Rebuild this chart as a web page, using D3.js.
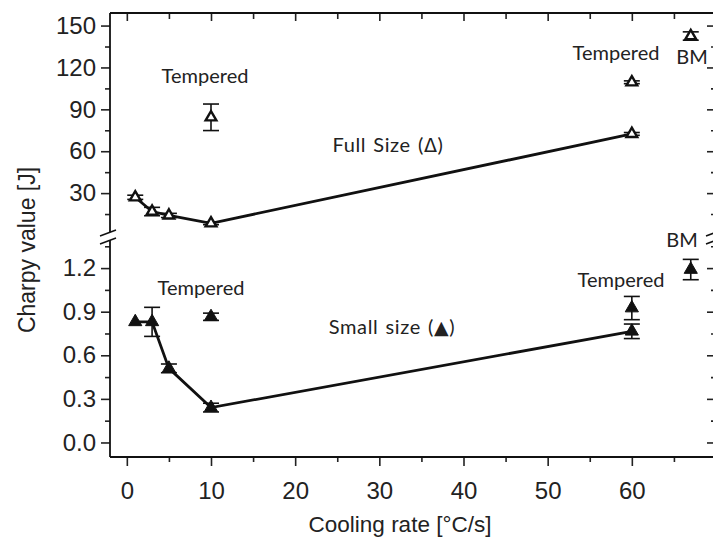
<!DOCTYPE html>
<html>
<head>
<meta charset="utf-8">
<script src="https://cdn.jsdelivr.net/npm/d3@7"></script>
<style>
  body { margin: 0; background: #fff; }
  .axis text { font-family: "Liberation Sans", Arial, sans-serif; font-size: 24px; fill: #222; }
  .axis line { stroke: #222; stroke-width: 1.6; }
  .axis path { display: none; }
  .note { font-family: Lato, "Open Sans", sans-serif; font-size: 20px; fill: #222; }
  .note.wide { word-spacing: 1.5px; letter-spacing: 0.6px; }
</style>
</head>
<body>
<svg id="chart" width="713" height="547"></svg>
<script>
// Charpy impact energy vs. cooling rate (full-size and small-size specimens)
const coolingRate = [1, 3, 5, 10, 60];
const fullSize = [27, 16.8, 14, 8.4, 72.4];
const fullSizeErr = [1.5, 3, 1.5, 1, 1];
const smallSize = [0.83, 0.83, 0.51, 0.24, 0.765];
const smallSizeErr = [0, 0.1, 0.03, 0.03, 0.05];

const temperedRate = [10, 60];
const fullTempered = [84.3, 109.4];
const fullTemperedErr = [9.5, 1];
const smallTempered = [0.865, 0.925];
const smallTemperedErr = [0.025, 0.08];

const bmRate = [67];
const fullBM = [142.5];
const fullBMErr = [3];
const smallBM = [1.19];
const smallBMErr = [0.07];

const xTicks = [0, 10, 20, 30, 40, 50, 60];
const xMinorTicks = [5, 15, 25, 35, 45, 55, 65];
const topTicks = [30, 60, 90, 120, 150];
const topMinorTicks = [15, 45, 75, 105, 135];
const bottomTicks = [0.0, 0.3, 0.6, 0.9, 1.2];
const bottomMinorTicks = [0.15, 0.45, 0.75, 1.05, 1.35];

const svg = d3.select("#chart");
const plotLeft = 110, plotRight = 716, plotTop = 13, plotBottom = 457;
const breakTop = 232, breakBot = 240;

const x = d3.scaleLinear().domain([-2, 70]).range([plotLeft, plotRight]);
const yTop = d3.scaleLinear().domain([0, 159]).range([235, plotTop]);
const yBot = d3.scaleLinear().domain([-0.1, 1.414]).range([plotBottom, 237]);

const ink = "#111";

// ---- axes ----
function addAxis(gen, tx, ty) {
  return svg.append("g").attr("class", "axis").attr("transform", `translate(${tx},${ty})`).call(gen);
}
// left
addAxis(d3.axisLeft(yTop).tickValues(topTicks).tickSize(9).tickPadding(5).tickFormat(d3.format("d")), plotLeft, 0);
addAxis(d3.axisLeft(yTop).tickValues(topMinorTicks).tickSize(5).tickFormat(""), plotLeft, 0);
addAxis(d3.axisLeft(yBot).tickValues(bottomTicks).tickSize(9).tickPadding(5).tickFormat(d3.format(".1f")), plotLeft, 0);
addAxis(d3.axisLeft(yBot).tickValues(bottomMinorTicks).tickSize(5).tickFormat(""), plotLeft, 0);
// right (mirror ticks, inward)
addAxis(d3.axisLeft(yTop).tickValues(topTicks).tickSize(9).tickFormat(""), plotRight, 0);
addAxis(d3.axisLeft(yTop).tickValues(topMinorTicks).tickSize(5).tickFormat(""), plotRight, 0);
addAxis(d3.axisLeft(yBot).tickValues(bottomTicks).tickSize(9).tickFormat(""), plotRight, 0);
addAxis(d3.axisLeft(yBot).tickValues(bottomMinorTicks).tickSize(5).tickFormat(""), plotRight, 0);
// bottom
addAxis(d3.axisBottom(x).tickValues(xTicks).tickSize(9).tickPadding(16).tickFormat(d3.format("d")), 0, plotBottom);
addAxis(d3.axisBottom(x).tickValues(xMinorTicks).tickSize(5).tickFormat(""), 0, plotBottom);
// top (inward)
addAxis(d3.axisBottom(x).tickValues(xTicks).tickSize(8).tickFormat(""), 0, plotTop);
addAxis(d3.axisBottom(x).tickValues(xMinorTicks).tickSize(6).tickFormat(""), 0, plotTop);

// frame with broken vertical sides
const frame = svg.append("g").attr("stroke", ink).attr("stroke-width", 1.8).attr("fill", "none");
frame.append("line").attr("x1", plotLeft).attr("x2", plotRight).attr("y1", plotTop).attr("y2", plotTop);
frame.append("line").attr("x1", plotLeft).attr("x2", plotRight).attr("y1", plotBottom).attr("y2", plotBottom);
[plotLeft, plotRight].forEach(ax => {
  frame.append("line").attr("x1", ax).attr("x2", ax).attr("y1", plotTop).attr("y2", breakTop);
  frame.append("line").attr("x1", ax).attr("x2", ax).attr("y1", breakBot).attr("y2", plotBottom);
  [breakTop + 1, breakBot + 1].forEach(by => {
    frame.append("line").attr("x1", ax - 10).attr("y1", by + 3)
      .attr("x2", ax + 6).attr("y2", by - 3).attr("stroke-width", 1.6);
  });
});

// ---- data ----
function drawSeries(rates, vals, errs, yScale, filled, size) {
  const g = svg.append("g");
  rates.forEach((r, i) => {
    const cx = x(r);
    const e = errs[i];
    if (e > 0) {
      const y1 = yScale(vals[i] + e), y2 = yScale(vals[i] - e);
      g.append("line").attr("x1", cx).attr("x2", cx).attr("y1", y1).attr("y2", y2)
        .attr("stroke", ink).attr("stroke-width", 1.6);
      [y1, y2].forEach(yy => g.append("line").attr("x1", cx - 8).attr("x2", cx + 8)
        .attr("y1", yy).attr("y2", yy).attr("stroke", ink).attr("stroke-width", 1.6));
    }
    g.append("path")
      .attr("d", d3.symbol(d3.symbolTriangle, size)())
      .attr("transform", `translate(${cx},${yScale(vals[i])})`)
      .attr("fill", filled ? ink : "#fff")
      .attr("stroke", ink)
      .attr("stroke-width", filled ? 1 : 2.4);
  });
}
function drawLine(rates, vals, yScale) {
  svg.append("path")
    .datum(rates.map((r, i) => [r, vals[i]]))
    .attr("d", d3.line().x(d => x(d[0])).y(d => yScale(d[1])))
    .attr("fill", "none").attr("stroke", ink).attr("stroke-width", 2.8);
}

drawLine(coolingRate, fullSize, yTop);
drawLine(coolingRate, smallSize, yBot);
drawSeries(coolingRate, fullSize, fullSizeErr, yTop, false, 50);
drawSeries(temperedRate, fullTempered, fullTemperedErr, yTop, false, 50);
drawSeries(bmRate, fullBM, fullBMErr, yTop, false, 50);
drawSeries(coolingRate, smallSize, smallSizeErr, yBot, true, 75);
drawSeries(temperedRate, smallTempered, smallTemperedErr, yBot, true, 75);
drawSeries(bmRate, smallBM, smallBMErr, yBot, true, 75);

// ---- annotations ----
const notes = [
  ["Tempered", 205, 83],
  ["Tempered", 616, 60],
  ["BM", 692, 64],
  ["Tempered", 201, 295],
  ["Tempered", 621, 287],
  ["BM", 682, 247]
];
svg.append("g").selectAll("text").data(notes).join("text")
  .attr("class", "note").attr("text-anchor", "middle")
  .attr("x", d => d[1]).attr("y", d => d[2]).text(d => d[0]);

// specimen-size labels with their marker glyph
const sizeLabels = [
  ["Full Size (", "\u0394", ")", 388, 152],
  ["Small size (", "\u25B2", ")", 392, 334]
];
sizeLabels.forEach(([pre, sym, post, lx, ly]) => {
  const t = svg.append("text").attr("class", "note wide").attr("text-anchor", "middle")
    .attr("x", lx).attr("y", ly);
  t.append("tspan").text(pre);
  t.append("tspan").style("font-family", '"DejaVu Sans", sans-serif').style("font-size", "19px").text(sym);
  t.append("tspan").text(post);
});

// ---- axis titles ----
svg.append("text")
  .attr("transform", "translate(35,250) rotate(-90)")
  .attr("text-anchor", "middle")
  .style("font-family", '"Liberation Sans", Arial, sans-serif').style("font-size", "23px").style("fill", "#222")
  .text("Charpy value [J]");
svg.append("text")
  .attr("x", 400).attr("y", 532).attr("text-anchor", "middle")
  .style("font-family", '"Liberation Sans", Arial, sans-serif').style("font-size", "22.5px").style("fill", "#222")
  .text("Cooling rate [\u00B0C/s]");
</script>
</body>
</html>
